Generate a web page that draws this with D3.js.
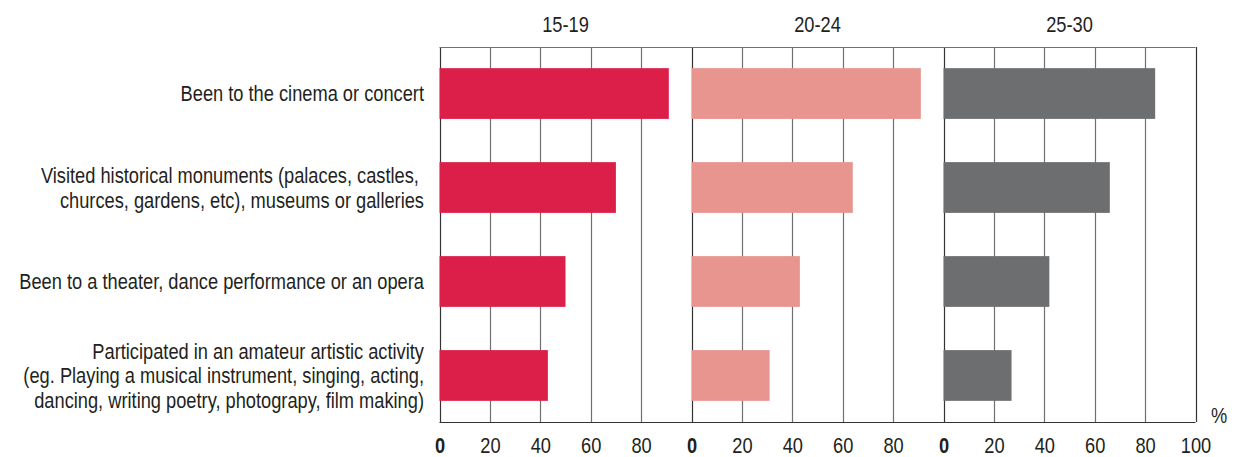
<!DOCTYPE html>
<html>
<head>
<meta charset="utf-8">
<script src="https://cdn.jsdelivr.net/npm/d3@7"></script>
<style>
  html, body { margin: 0; padding: 0; background: #fff; }
  svg { display: block; font-family: "Liberation Sans", Arial, sans-serif; }
</style>
</head>
<body>
<svg id="chart" width="1238" height="457"></svg>
<script>
const categories = [
  ["Been to the cinema or concert"],
  ["Visited historical monuments (palaces, castles, ", "churces, gardens, etc), museums or galleries"],
  ["Been to a theater, dance performance or an opera"],
  ["Participated in an amateur artistic activity", "(eg. Playing a musical instrument, singing, acting,", "dancing, writing poetry, photograpy, film making)"]
];
const ageGroups = ["15-19", "20-24", "25-30"];
const values_15_19 = [91, 70, 50, 43];
const values_20_24 = [91, 64, 43, 31];
const values_25_30 = [84, 66, 42, 27];
const tickValues = [0, 20, 40, 60, 80];
const lastTickValues = [0, 20, 40, 60, 80, 100];
const unitLabel = "%";

(function () {
const series = [values_15_19, values_20_24, values_25_30];
const colors = ["#DC1F49", "#E8948F", "#6D6E70"];
const textColor = "#231F20";
const fontSize = "22px";
const sx = 0.83; // horizontal condensation to mimic a condensed typeface

const svg = d3.select("#chart");
const plotTop = 47, plotBottom = 422;
const plotLeft = 439.5, panelW = 252;

const catIdx = categories.map((d, i) => i);
const y = d3.scaleBand().domain(catIdx).range([plotTop, plotBottom]).paddingInner(0.46).paddingOuter(0.225);

const xs = ageGroups.map((g, i) => d3.scaleLinear().domain([0, 100]).range([plotLeft + i * panelW, plotLeft + (i + 1) * panelW]));

// gridlines
const grid = svg.append("g");
xs.forEach((x, i) => {
  const tv = i === 2 ? lastTickValues : tickValues;
  tv.forEach(t => {
    grid.append("line")
      .attr("x1", Math.round(x(t)) + 0.5).attr("x2", Math.round(x(t)) + 0.5)
      .attr("y1", plotTop).attr("y2", plotBottom)
      .attr("stroke", (t === 0 || t === 100) ? "#333" : "#707070")
      .attr("stroke-width", 1.2);
  });
});
grid.append("line")
  .attr("x1", xs[0](0)).attr("x2", xs[2](100))
  .attr("y1", plotTop + 0.5).attr("y2", plotTop + 0.5)
  .attr("stroke", "#707070").attr("stroke-width", 1.2);

// bars
xs.forEach((x, i) => {
  svg.append("g").selectAll("rect")
    .data(series[i])
    .join("rect")
    .attr("x", x(0))
    .attr("y", (d, j) => y(j))
    .attr("width", d => x(d) - x(0))
    .attr("height", y.bandwidth())
    .attr("fill", colors[i]);
});

// bottom axis line
svg.append("line")
  .attr("x1", xs[0](0)).attr("x2", xs[2](100))
  .attr("y1", plotBottom + 0.5).attr("y2", plotBottom + 0.5)
  .attr("stroke", "#333").attr("stroke-width", 1.2);

// tick labels via d3 axis
xs.forEach((x, i) => {
  const tv = i === 2 ? lastTickValues : tickValues;
  const ax = svg.append("g")
    .attr("transform", `translate(0,${plotBottom})`)
    .call(d3.axisBottom(x).tickValues(tv).tickSize(0).tickPadding(0).tickFormat(d3.format("d")));
  ax.select(".domain").remove();
  ax.selectAll("text")
    .attr("y", null)
    .attr("dy", null)
    .attr("transform", `translate(0,31) scale(${sx},1)`)
    .attr("fill", textColor)
    .style("font-size", fontSize)
    .style("font-family", "\"Liberation Sans\", Arial, sans-serif")
    .style("font-weight", d => d === 0 ? "bold" : "normal");
});

// header labels
xs.forEach((x, i) => {
  svg.append("text")
    .attr("transform", `translate(${x(50)},32) scale(${sx},1)`)
    .attr("text-anchor", "middle")
    .attr("fill", textColor)
    .style("font-size", fontSize)
    .text(ageGroups[i]);
});

// % label
svg.append("text")
  .attr("transform", `translate(1219,423) scale(${sx},1)`)
  .attr("text-anchor", "middle")
  .attr("fill", textColor)
  .style("font-size", fontSize)
  .text(unitLabel);

// category labels
const lineH = 24.5;
categories.forEach((lines, j) => {
  const cy = y(j) + y.bandwidth() / 2;
  const n = lines.length;
  const t = svg.append("text")
    .attr("transform", `translate(424,0) scale(${sx},1)`)
    .attr("text-anchor", "end")
    .attr("fill", textColor)
    .style("font-size", fontSize);
  lines.forEach((ln, k) => {
    t.append("tspan")
      .attr("x", 0)
      .attr("y", cy + (k - (n - 1) / 2) * lineH + 7.8)
      .style("white-space", "pre")
      .text(ln);
  });
});
})();
</script>
</body>
</html>
